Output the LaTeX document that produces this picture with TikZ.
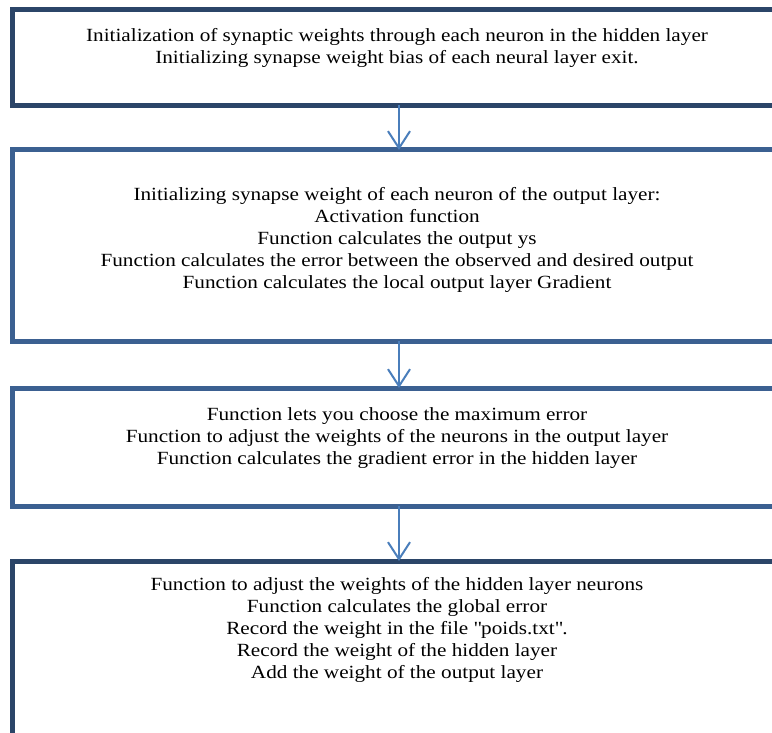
\documentclass[tikz,border=0pt]{standalone}
\usepackage{fontspec}
\setmainfont{Liberation Serif}[FakeStretch=1.14]
\usetikzlibrary{arrows.meta}
\definecolor{navy}{HTML}{2B4568}
\definecolor{midblue}{HTML}{3B6091}
\definecolor{arrblue}{HTML}{4A7EBB}
\begin{document}
\begin{tikzpicture}[x=1pt,y=-1pt,
  box/.style={draw,line width=5pt,rectangle,inner sep=0pt,outer sep=0pt,anchor=north west,minimum width=800pt},
  txt/.style={align=center,font=\fontsize{18.6}{22}\selectfont,inner sep=0pt},
  arr/.style={draw=arrblue,line width=2pt,-{Straight Barb[length=17pt,width=22pt,line width=2pt]}}]
\useasboundingbox (0,0) rectangle (772,733);
\clip (0,0) rectangle (772,733);
\fill[white] (0,0) rectangle (772,733);
\node[box,draw=navy,minimum height=96pt] (b1) at (12.5,9.5) {};
\node[box,draw=midblue,minimum height=191pt] (b2) at (12.5,150) {};
\node[box,draw=midblue,minimum height=118pt] (b3) at (12.5,388) {};
\node[box,draw=navy,minimum height=250pt] (b4) at (12.5,561) {};
\coordinate (ax) at (399,0);
\node[txt] (t1) at (397,47.5) {Initialization of synaptic weights through each neuron in the hidden layer\\Initializing synapse weight bias of each neural layer exit.};
\node[txt] (t2) at (397,239.5) {Initializing synapse weight of each neuron of the output layer:\\Activation function\\Function calculates the output ys\\Function calculates the error between the observed and desired output\\Function calculates the local output layer Gradient};
\node[txt] (t3) at (397,438.5) {Function lets you choose the maximum error\\Function to adjust the weights of the neurons in the output layer\\Function calculates the gradient error in the hidden layer};
\node[txt] (t4) at (397,630) {Function to adjust the weights of the hidden layer neurons\\Function calculates the global error\\Record the weight in the file \textquotedbl poids.txt\textquotedbl .\\Record the weight of the hidden layer\\Add the weight of the output layer};
\draw[arr] (b1.south -| ax) -- (b2.north -| ax);
\draw[arr] (b2.south -| ax) -- (b3.north -| ax);
\draw[arr] (b3.south -| ax) -- (b4.north -| ax);
\end{tikzpicture}
\end{document}
